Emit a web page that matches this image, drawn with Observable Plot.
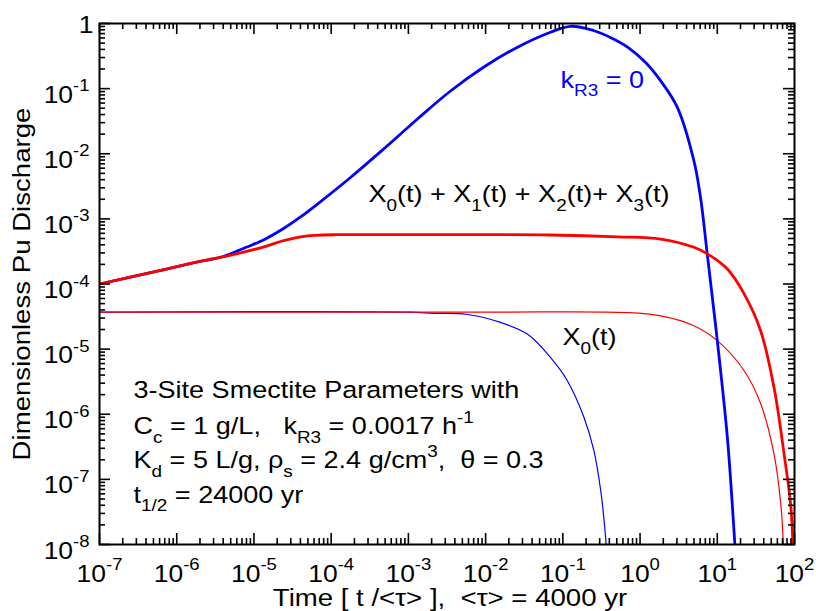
<!DOCTYPE html>
<html><head><meta charset="utf-8">
<script src="https://cdn.jsdelivr.net/npm/d3@7"></script>
<script src="https://cdn.jsdelivr.net/npm/@observablehq/plot@0.6"></script>
<style>body{margin:0;background:#fff} svg text{white-space:pre}</style>
</head><body><div id="chart"></div>
<script>
// ---- axis ticks & labels ----
const xTicks = [1e-7, 1e-6, 1e-5, 1e-4, 1e-3, 1e-2, 1e-1, 1e0, 1e1, 1e2];
const xTickLabels = ["10^{-7}", "10^{-6}", "10^{-5}", "10^{-4}", "10^{-3}", "10^{-2}", "10^{-1}", "10^{0}", "10^{1}", "10^{2}"];
const yTicks = [1e-8, 1e-7, 1e-6, 1e-5, 1e-4, 1e-3, 1e-2, 1e-1, 1];
const yTickLabels = ["10^{-8}", "10^{-7}", "10^{-6}", "10^{-5}", "10^{-4}", "10^{-3}", "10^{-2}", "10^{-1}", "1"];
const xTitle = "Time [ t /<τ> ],  <τ> = 4000 yr";
const yTitle = "Dimensionless Pu Discharge";

// ---- series (time t/<tau>, discharge) ----
// k_R3 = 0, total (thick blue)
const tBlueTotal = [1e-7, 6.2e-7, 1.75e-6, 3.92e-6, 7.78e-6, 1.29e-5, 2.42e-5, 4.01e-5, 6.65e-5, 1.78e-4, 4.77e-4, 1.31e-3, 3.51e-3, 9.4e-3, 2.59e-2, 6.92e-2, 0.1256, 0.249, 0.414, 0.689, 1.18, 1.84, 3.03, 4.97, 6.07, 7.41, 10, 13.5, 16.4, 17.0];
const vBlueTotal = [1.0e-4, 1.62e-4, 2.15e-4, 2.62e-4, 3.63e-4, 4.66e-4, 7.11e-4, 1.07e-3, 1.69e-3, 4.32e-3, 1.18e-2, 3.42e-2, 9.2e-2, 0.213, 0.433, 0.735, 0.906, 0.781, 0.610, 0.433, 0.252, 0.133, 5.19e-2, 7.87e-3, 2.13e-3, 2.91e-4, 1.36e-5, 4.44e-7, 1.74e-8, 8.7e-9];
// k_R3 = 0, X0(t) (thin blue)
const tBlueX0 = [1e-7, 1e-3, 2.14e-3, 5.8e-3, 1.56e-2, 3.47e-2, 6.95e-2, 0.114, 0.188, 0.253, 0.309, 0.358, 0.363];
const vBlueX0 = [3.7e-5, 3.7e-5, 3.55e-5, 3.4e-5, 2.57e-5, 1.7e-5, 7.4e-6, 3.3e-6, 8.9e-7, 2.75e-7, 6.8e-8, 1.29e-8, 1e-8];
// X0+X1+X2+X3 (thick red)
const tRedTotal = [1e-7, 6.2e-7, 1.75e-6, 4.7e-6, 1.28e-5, 2.32e-5, 4.22e-5, 6.27e-5, 1.14e-4, 1e-3, 6.9e-2, 0.51, 1.85, 4.99, 7.45, 13.5, 22.2, 36.5, 54.3, 73.3, 89, 95.5];
const vRedTotal = [1.0e-4, 1.62e-4, 2.15e-4, 2.73e-4, 3.66e-4, 4.57e-4, 5.36e-4, 5.6e-4, 5.71e-4, 5.72e-4, 5.65e-4, 5.3e-4, 4.9e-4, 3.66e-4, 2.9e-4, 1.7e-4, 7.1e-5, 1.9e-5, 2.57e-6, 2.45e-7, 4.2e-8, 1e-8];
// X0(t) (thin red)
const tRedX0 = [1e-7, 1e-2, 0.685, 1.85, 4.99, 10, 22.2, 36.5, 54.3, 66.4, 71.8];
const vRedX0 = [3.7e-5, 3.7e-5, 3.63e-5, 3.24e-5, 2.29e-5, 1.35e-5, 4.7e-6, 1.45e-6, 2.45e-7, 4.2e-8, 1e-8];

// ---- annotations ----
const noteTexts = ["k_{R3} = 0", "X_{0}(t) + X_{1}(t) + X_{2}(t)+ X_{3}(t)", "X_{0}(t)",
  "3-Site Smectite Parameters with", "C_{c} = 1 g/L,   k_{R3} = 0.0017 h^{-1}",
  "K_{d} = 5 L/g, ρ_{s} = 2.4 g/cm^{3},  θ = 0.3", "t_{1/2} = 24000 yr"];
const noteT = [0.0933, 3.04e-4, 0.099, 2.76e-7, 2.76e-7, 2.76e-7, 2.76e-7];
const noteV = [0.104, 1.8e-3, 1.14e-5, 1.75e-6, 4.89e-7, 1.47e-7, 4.41e-8];
const noteColors = ["#0000ff", "black", "black", "black", "black", "black", "black"];

const mk = (t, v) => t.map((d, i) => ({t: d, v: v[i]}));
const notes = noteTexts.map((s, i) => ({s, t: noteT[i], v: noteV[i], c: noteColors[i]}));

const W = 816, H = 611, ML = 99, MR = 22, MT = 23, MB = 67;
const PW = W - ML - MR, PH = H - MT - MB;
const isDecade = d => Math.abs(Math.log10(d) - Math.round(Math.log10(d))) < 1e-9;
const xMinor = d3.scaleLog().domain([1e-7, 1e2]).ticks().filter(d => !isDecade(d));
const yMinor = d3.scaleLog().domain([1e-8, 1]).ticks().filter(d => !isDecade(d));
const MAJ = 11, MIN = 6;
const font = "'Liberation Sans', Arial, Helvetica, sans-serif";
const curve = "catmull-rom";

const plot = Plot.plot({
  width: W, height: H,
  marginLeft: ML, marginRight: MR, marginTop: MT, marginBottom: MB,
  style: {fontFamily: font, background: "white", overflow: "visible"},
  x: {type: "log", domain: [1e-7, 1e2], axis: null},
  y: {type: "log", domain: [1e-8, 1], axis: null},
  marks: [
    Plot.line(mk(tBlueX0, vBlueX0), {x: "t", y: "v", stroke: "#0000ff", strokeWidth: 1.2, curve, clip: true}),
    Plot.line(mk(tRedX0, vRedX0), {x: "t", y: "v", stroke: "#ff0000", strokeWidth: 1.2, curve, clip: true}),
    Plot.line(mk(tBlueTotal, vBlueTotal), {x: "t", y: "v", stroke: "#0000ff", strokeWidth: 2.8, curve, clip: true}),
    Plot.line(mk(tRedTotal, vRedTotal), {x: "t", y: "v", stroke: "#ff0000", strokeWidth: 2.8, curve, clip: true}),
    // ticks (inward on all four sides)
    Plot.ruleX(xTicks, {x: d => d, insetTop: PH - MAJ, strokeWidth: 1.6}),
    Plot.ruleX(xTicks, {x: d => d, insetBottom: PH - MAJ, strokeWidth: 1.6}),
    Plot.ruleX(xMinor, {x: d => d, insetTop: PH - MIN, strokeWidth: 1.6}),
    Plot.ruleX(xMinor, {x: d => d, insetBottom: PH - MIN, strokeWidth: 1.6}),
    Plot.ruleY(yTicks, {y: d => d, insetRight: PW - MAJ, strokeWidth: 1.6}),
    Plot.ruleY(yTicks, {y: d => d, insetLeft: PW - MAJ, strokeWidth: 1.6}),
    Plot.ruleY(yMinor, {y: d => d, insetRight: PW - MIN, strokeWidth: 1.6}),
    Plot.ruleY(yMinor, {y: d => d, insetLeft: PW - MIN, strokeWidth: 1.6}),
    Plot.frame({stroke: "black", strokeWidth: 2}),
    // tick labels
    Plot.text(xTicks, {x: d => d, text: (d, i) => xTickLabels[i], frameAnchor: "bottom", lineAnchor: "bottom", textAnchor: "middle", dy: 37, fontSize: 23, fill: "black"}),
    Plot.text(yTicks, {y: d => d, text: (d, i) => yTickLabels[i], filter: d => d < 1, frameAnchor: "left", lineAnchor: "bottom", textAnchor: "end", dx: -10, dy: 14, fontSize: 23, fill: "black"}),
    Plot.text(yTicks, {y: d => d, text: (d, i) => yTickLabels[i], filter: d => d >= 1, frameAnchor: "left", lineAnchor: "bottom", textAnchor: "end", dx: -6, dy: 9, fontSize: 23, fill: "black"}),
    // axis titles
    Plot.text([xTitle], {text: d => d, frameAnchor: "bottom", lineAnchor: "bottom", textAnchor: "middle", dx: 3, dy: 61, fontSize: 24, fill: "black"}),
    Plot.text([yTitle], {text: d => d, frameAnchor: "left", lineAnchor: "bottom", textAnchor: "middle", rotate: -90, dx: -70, dy: 0, fontSize: 24, fill: "black"}),
    // annotations
    Plot.text(notes, {x: "t", y: "v", text: "s", fill: "c", lineAnchor: "bottom", textAnchor: "start", fontSize: 23.5})
  ]
});

// turn ^{..} and _{..} into real superscript / subscript tspans
function richify(svg) {
  svg.querySelectorAll("text").forEach(el => {
    const s = el.textContent;
    if (!/[\^_]\{/.test(s)) return;
    const fs = parseFloat(el.closest("[font-size]")?.getAttribute("font-size")) || 16;
    el.textContent = "";
    const re = /([\^_])\{([^}]*)\}/g;
    let last = 0, cur = 0, m;
    const add = (txt, off, small) => {
      if (!txt) return;
      const ts = document.createElementNS("http://www.w3.org/2000/svg", "tspan");
      ts.textContent = txt;
      const dy = off - cur;
      if (dy) ts.setAttribute("dy", dy);
      if (small) ts.setAttribute("font-size", fs * 0.7);
      cur = off;
      el.appendChild(ts);
    };
    while ((m = re.exec(s))) {
      add(s.slice(last, m.index), 0, false);
      add(m[2], m[1] === "^" ? -0.5 * fs : 0.36 * fs, true);
      last = re.lastIndex;
    }
    add(s.slice(last), 0, false);
  });
}
// the original typeface is a wide Helvetica: widen glyphs along each text's baseline
function widen(svg, sx) {
  svg.querySelectorAll("text").forEach(el => {
    const t = el.getAttribute("transform") || "";
    el.setAttribute("transform", (t + ` scale(${sx},1)`).trim());
  });
}
richify(plot);
widen(plot, 1.15);
document.getElementById("chart").appendChild(plot);
</script>
</body></html>
